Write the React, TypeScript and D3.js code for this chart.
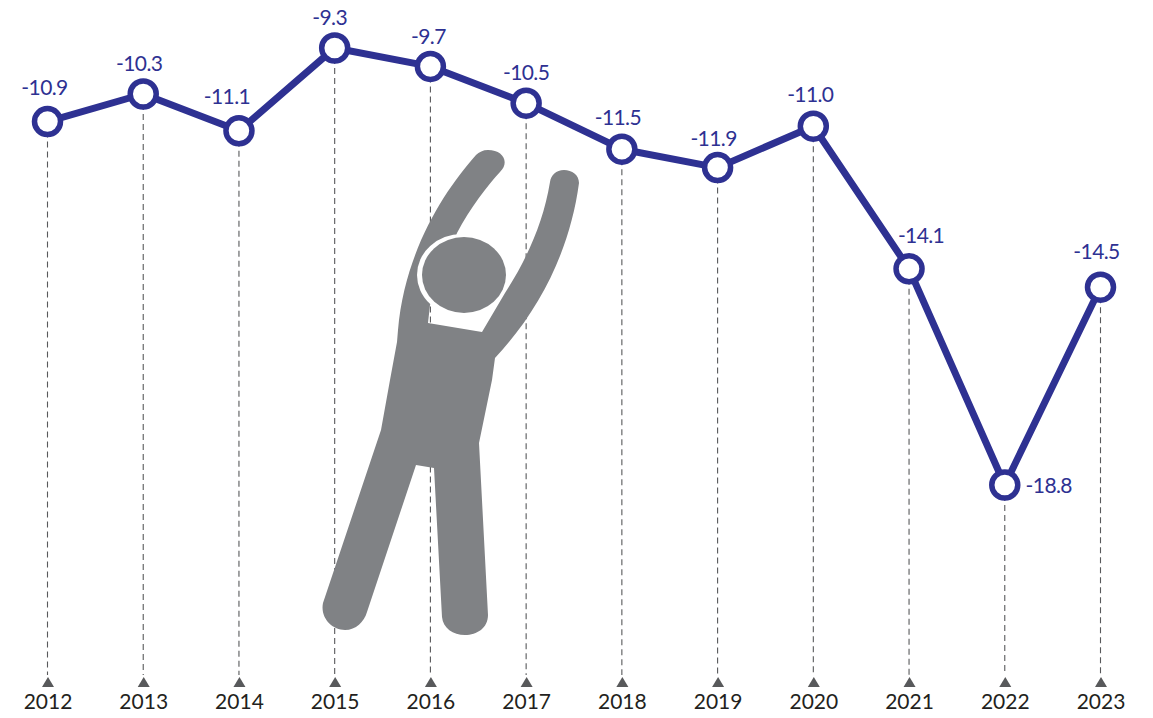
import { useRef, useEffect } from 'react';
import * as d3 from 'd3';

const years = ['2012', '2013', '2014', '2015', '2016', '2017', '2018', '2019', '2020', '2021', '2022', '2023'];
const balance = [-10.9, -10.3, -11.1, -9.3, -9.7, -10.5, -11.5, -11.9, -11.0, -14.1, -18.8, -14.5];
const labels = ['-10.9', '-10.3', '-11.1', '-9.3', '-9.7', '-10.5', '-11.5', '-11.9', '-11.0', '-14.1', '-18.8', '-14.5'];

// hand placed, the labels dodge the line so each one sits differently
const labelDx = [-3, -4, -12, -5, -2, 0, -4, -4, -3, 12, 44, -4];
const labelDy = [-27, -23, -27, -23, -22, -23, -24, -22, -24, -26, 8, -28];

const NAVY = '#2e3192';
const FIGURE_GREY = '#808285';

// the stretching man behind the line
const BODY_PATH =
  'M476,155 C445,190 405,250 398,330 L397,342 L390,380 L381,430 L323,603 ' +
  'C320,618 332,630 345,630 C356,630 364,622 367,612 L416,465 L434,468 L442,617 ' +
  'C443,628 453,635 465,635 C477,635 488,628 488,615 L479,443 L492,380 L495,358 ' +
  'C540,310 570,250 579,183 C579,175 572,170 564,170 C556,170 551,175 550,182 ' +
  'C543,225 525,262 505,293 L482,332 L428,323 L430,305 L457,233 ' +
  'C470,208 488,185 500,172 C510,162 503,150 488,150 C483,150 479,152 476,155 Z';

export default function App() {
  const svgRef = useRef<SVGSVGElement>(null);

  useEffect(() => {
    if (!svgRef.current) return;
    const svg = d3.select(svgRef.current);
    svg.selectAll('*').remove();

    const x = d3.scalePoint<string>().domain(years).range([47.5, 1100.5]);
    const y = d3.scaleLinear().domain([-9.3, -18.8]).range([48, 485]);
    const axisY = 687;

    const points = years.map((year, i) => ({ year, value: balance[i], label: labels[i], i }));

    // Dashed drop lines
    svg.append('g')
      .selectAll('line')
      .data(points)
      .join('line')
      .attr('x1', (d) => x(d.year)!)
      .attr('x2', (d) => x(d.year)!)
      .attr('y1', (d) => y(d.value))
      .attr('y2', axisY - 12)
      .attr('stroke', '#58595b')
      .attr('stroke-width', 1.1)
      .attr('stroke-dasharray', '6 4');

    // Figure
    const figure = svg.append('g');
    figure.append('path').attr('d', BODY_PATH).attr('fill', FIGURE_GREY);
    figure.append('ellipse')
      .attr('cx', 462).attr('cy', 275).attr('rx', 45).attr('ry', 41)
      .attr('fill', '#ffffff');
    figure.append('ellipse')
      .attr('cx', 464).attr('cy', 275).attr('rx', 42).attr('ry', 38)
      .attr('fill', FIGURE_GREY);

    // X axis, no domain line, the ticks are little triangles
    const axis = svg.append('g')
      .attr('transform', `translate(0,${axisY})`)
      .call(d3.axisBottom(x).tickSize(0).tickPadding(7));
    axis.select('.domain').remove();
    axis.selectAll('.tick text')
      .attr('fill', '#231f20')
      .attr('font-family', 'Lato')
      .attr('font-size', '21px');
    axis.selectAll('.tick')
      .append('path')
      .attr('d', 'M-6,0 L0,-10 L6,0 Z')
      .attr('fill', '#58595b');

    // Line
    const line = d3.line<(typeof points)[number]>()
      .x((d) => x(d.year)!)
      .y((d) => y(d.value));
    svg.append('path')
      .datum(points)
      .attr('d', line)
      .attr('fill', 'none')
      .attr('stroke', NAVY)
      .attr('stroke-width', 7)
      .attr('stroke-linejoin', 'round');

    // Markers
    svg.append('g')
      .selectAll('circle')
      .data(points)
      .join('circle')
      .attr('cx', (d) => x(d.year)!)
      .attr('cy', (d) => y(d.value))
      .attr('r', 13)
      .attr('fill', '#ffffff')
      .attr('stroke', NAVY)
      .attr('stroke-width', 5.5);

    // Value labels
    svg.append('g')
      .selectAll('text')
      .data(points)
      .join('text')
      .attr('x', (d) => x(d.year)! + labelDx[d.i])
      .attr('y', (d) => y(d.value) + labelDy[d.i])
      .attr('text-anchor', 'middle')
      .attr('fill', NAVY)
      .attr('font-family', 'Lato')
      .attr('font-size', '21px')
      .attr('letter-spacing', '-0.6px')
      .text((d) => d.label);
  }, []);

  return (
    <svg
      ref={svgRef}
      width={1153}
      height={718}
      viewBox="0 0 1153 718"
      style={{ position: 'absolute', left: 0, top: 0, background: '#ffffff' }}
    />
  );
}
